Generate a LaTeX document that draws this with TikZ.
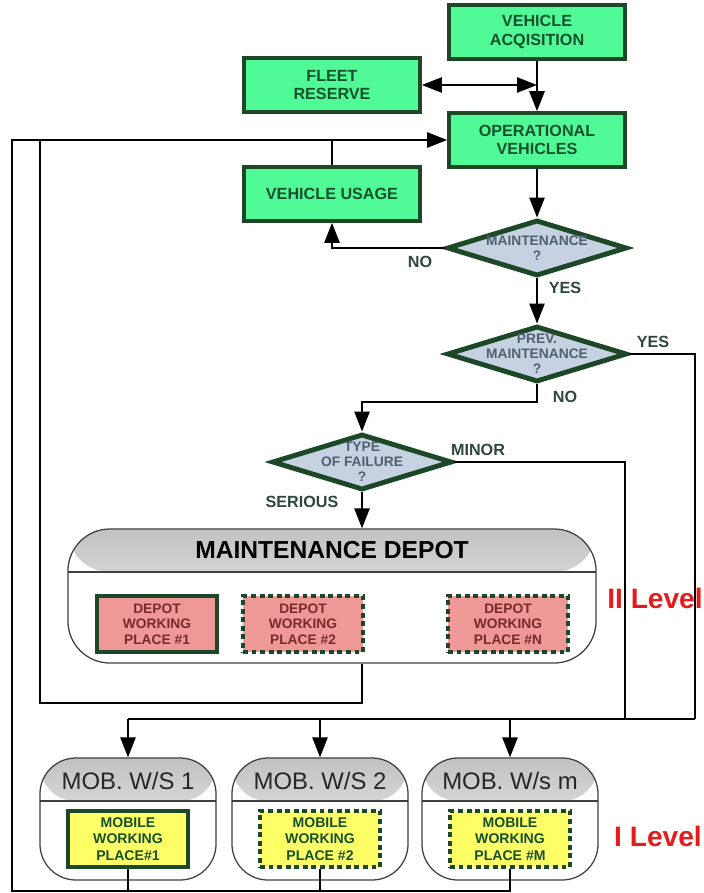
\documentclass[tikz,border=0pt]{standalone}
\usepackage{fontspec}
\setmainfont{Liberation Sans}
\usetikzlibrary{shapes.geometric,arrows.meta}

\definecolor{boxgreen}{RGB}{80,250,150}
\definecolor{edgegreen}{RGB}{28,72,40}
\definecolor{textgreen}{RGB}{22,80,45}
\definecolor{diafill}{RGB}{198,210,226}
\definecolor{diatext}{RGB}{80,96,112}
\definecolor{anstext}{RGB}{45,72,58}
\definecolor{depotfill}{RGB}{238,152,152}
\definecolor{depottext}{RGB}{122,42,42}
\definecolor{mobfill}{RGB}{255,255,102}
\definecolor{levelred}{RGB}{228,28,28}

\begin{document}
\begin{tikzpicture}[x=0.025cm, y=-0.025cm,
    greenbox/.style={draw=edgegreen, fill=boxgreen, line width=2.6pt, minimum width=4.4cm, minimum height=1.35cm, align=center, font=\fontsize{11.5}{13}\selectfont\bfseries, text=textgreen},
    decision/.style={diamond, draw=edgegreen, fill=diafill, line width=3.5pt, minimum width=4.5cm, minimum height=1.4cm, inner sep=0pt},
    dtext/.style={align=center, font=\fontsize{9.8}{10.5}\selectfont\bfseries, text=diatext},
    ans/.style={font=\fontsize{11.5}{13}\selectfont\bfseries, text=anstext},
    conn/.style={line width=1.4pt},
    arr/.style={conn, -{Triangle[length=5mm,width=3.8mm]}},
    dblarr/.style={conn, {Triangle[length=5mm,width=3.8mm]}-{Triangle[length=5mm,width=3.8mm]}},
    header/.style={path picture={
        \shade[top color=black!24, bottom color=black!3] (path picture bounding box.north west) rectangle ([yshift=-1.075cm]path picture bounding box.north east);
        \draw[line width=0.9pt, black!75] ([yshift=-1.075cm]path picture bounding box.north west) -- ([yshift=-1.075cm]path picture bounding box.north east);}},
    depotbox/.style={draw=black!75, fill=white, line width=0.9pt, rounded corners=1.05cm, minimum width=13.2cm, minimum height=3.35cm, header},
    wsbox/.style={draw=black!75, fill=white, line width=0.9pt, rounded corners=0.9cm, minimum width=4.4cm, minimum height=3.05cm, header},
    wplace/.style={draw=edgegreen, fill=depotfill, line width=2.8pt, minimum width=3cm, minimum height=1.4cm, inner sep=1pt, align=center, font=\fontsize{9.8}{11.2}\selectfont\bfseries, text=depottext},
    mplace/.style={draw=edgegreen, fill=mobfill, line width=2.8pt, minimum width=3cm, minimum height=1.4cm, inner sep=1pt, align=center, font=\fontsize{10}{11.8}\selectfont\bfseries, text=textgreen},
    broken/.style={dash pattern=on 3.5pt off 2.6pt},
    wstitle/.style={font=\fontsize{17}{19}\selectfont, text=black!85},
    level/.style={font=\fontsize{20}{22}\selectfont\bfseries, text=levelred}]

    \useasboundingbox (0,0) rectangle (703,893);

    % green boxes
    \node[greenbox] (acq) at (537,32) {VEHICLE\\ACQISITION};
    \node[greenbox] (fleet) at (332,85) {FLEET\\RESERVE};
    \node[greenbox] (oper) at (537,140) {OPERATIONAL\\VEHICLES};
    \node[greenbox] (usage) at (332,194) {VEHICLE USAGE};

    % decisions
    \node[decision] (maint) at (537,248) {};
    \node[dtext] (maintq) at (maint) {MAINTENANCE\\?};
    \node[decision] (prev) at (537,354) {};
    \node[dtext] (prevq) at (prev) {PREV.\\MAINTENANCE\\?};
    \node[decision] (fail) at (362,462) {};
    \node[dtext] (failq) at (fail) {TYPE\\OF FAILURE\\?};

    % maintenance depot
    \node[depotbox] (depot) at (332,596) {};
    \node[font=\fontsize{17.5}{19}\selectfont\bfseries] (depott) at (332,550) {MAINTENANCE DEPOT};
    \node[wplace] (dwp1) at (157,624) {DEPOT\\WORKING\\PLACE \#1};
    \node[wplace, broken] (dwp2) at (303,624) {DEPOT\\WORKING\\PLACE \#2};
    \node[wplace, broken] (dwpn) at (508,624) {DEPOT\\WORKING\\PLACE \#N};

    % mobile workshops
    \node[wsbox] (ws1) at (128,819) {};
    \node[wstitle] (ws1t) at (128,781) {MOB. W/S 1};
    \node[mplace] (mp1) at (128,839) {MOBILE\\WORKING\\PLACE\#1};
    \node[wsbox] (ws2) at (320,819) {};
    \node[wstitle] (ws2t) at (320,781) {MOB. W/S 2};
    \node[mplace, broken] (mp2) at (320,839) {MOBILE\\WORKING\\PLACE \#2};
    \node[wsbox] (ws3) at (510,819) {};
    \node[wstitle] (ws3t) at (510,781) {MOB. W/s m};
    \node[mplace, broken] (mp3) at (510,839) {MOBILE\\WORKING\\PLACE \#M};

    % levels
    \node[level] (lvl2) at (655,598) {II Level};
    \node[level] (lvl1) at (658,836) {I Level};

    % connectors, top part
    \draw[arr] (acq.south) -- (oper.north);
    \draw[dblarr] (fleet.east) -- (fleet.east -| acq.south);
    \draw[arr] (oper.south) -- (maint.north);
    \draw[arr] (maint.west) -| (usage.south);
    \draw[conn] (usage.north) -- (usage.north |- oper.west);
    \draw[arr] (maint.south) -- (prev.north);
    \coordinate (nobend) at (537,402);
    \draw[arr] (prev.south) -- (nobend) -| (fail.north);
    \draw[arr] (fail.south) -- (fail.south |- depot.north);

    % connectors to the mobile workshops
    \coordinate (yesdown) at (695,719);
    \coordinate (minordown) at (625,719);
    \coordinate (spread) at (128,719);
    \draw[conn] (prev.east) -| (yesdown);
    \draw[conn] (fail.east) -| (minordown);
    \draw[conn] (spread) -- (yesdown);
    \draw[arr] (spread) -- (ws1.north);
    \draw[arr] (ws2.north |- spread) -- (ws2.north);
    \draw[arr] (ws3.north |- spread) -- (ws3.north);

    % return lines
    \coordinate (depotret) at (40,703);
    \draw[conn] (depot.south -| fail.south) |- (depotret) -- (depotret |- oper.west);
    \coordinate (bottomret) at (12,891);
    \draw[conn] (mp1.south) -- (mp1.south |- bottomret);
    \draw[conn] (mp2.south) -- (mp2.south |- bottomret);
    \draw[arr] (mp3.south) -- (mp3.south |- bottomret) -- (bottomret) -- (bottomret |- oper.west) -- (oper.west);

    % answers
    \node[ans] (ansno1) at (420,262) {NO};
    \node[ans] (ansyes1) at (565,288) {YES};
    \node[ans] (ansyes2) at (653,342) {YES};
    \node[ans] (ansno2) at (565,397) {NO};
    \node[ans] (ansminor) at (478,450) {MINOR};
    \node[ans] (ansserious) at (302,502) {SERIOUS};
\end{tikzpicture}
\end{document}
